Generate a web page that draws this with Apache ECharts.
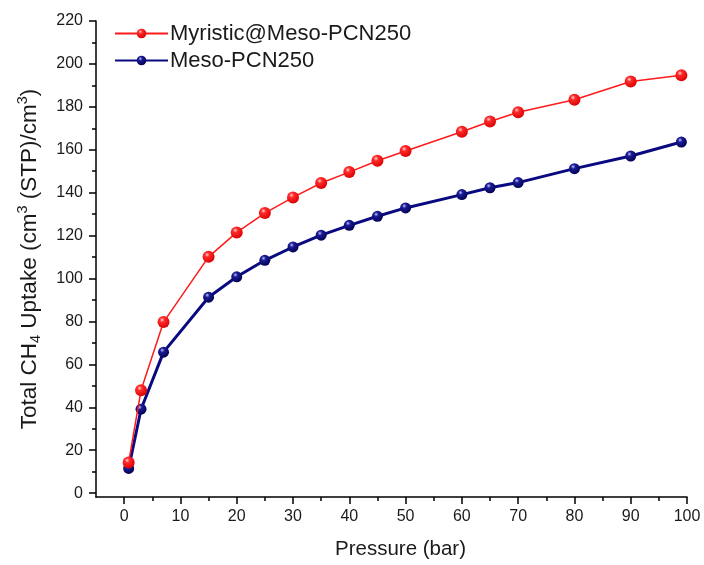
<!DOCTYPE html>
<html>
<head>
<meta charset="utf-8">
<title>CH4 uptake isotherms</title>
<script src="https://cdn.jsdelivr.net/npm/echarts@6/dist/echarts.min.js"></script>
<style>
  html, body { margin: 0; padding: 0; background: #fff; }
  #chart { width: 704px; height: 565px; }
</style>
</head>
<body>
<div id="chart"></div>
<script>
// Pressure points (bar) shared by both isotherms
const pressure = [0.8, 3, 7, 15, 20, 25, 30, 35, 40, 45, 50, 60, 65, 70, 80, 90, 99];

// Total CH4 uptake, cm3(STP)/cm3
const myristicUptake = [14.3, 47.9, 79.7, 110.1, 121.5, 130.5, 137.8, 144.5, 149.6, 154.9, 159.4, 168.4, 173.2, 177.5, 183.3, 191.8, 194.7];
const mesoUptake = [11.5, 39.1, 65.7, 91.3, 100.8, 108.5, 114.7, 120.2, 124.8, 129.0, 132.9, 139.1, 142.3, 144.7, 151.2, 157.1, 163.6];

const seriesNames = ['Myristic@Meso-PCN250', 'Meso-PCN250'];

// Axis ticks
const xMajorTicks = [0, 10, 20, 30, 40, 50, 60, 70, 80, 90, 100];
const xMinorTicks = [5, 15, 25, 35, 45, 55, 65, 75, 85, 95];
const yMajorTicks = [0, 20, 40, 60, 80, 100, 120, 140, 160, 180, 200, 220];
const yMinorTicks = [10, 30, 50, 70, 90, 110, 130, 150, 170, 190, 210];

const FONT = '"Liberation Sans", Arial, Helvetica, sans-serif';
const INK = '#1a1a1a';

function sphere(light, mid, dark) {
  return {
    type: 'radial', x: 0.38, y: 0.32, r: 0.72,
    colorStops: [
      { offset: 0, color: light },
      { offset: 0.28, color: mid },
      { offset: 1, color: dark }
    ]
  };
}

const toPairs = (vals) => pressure.map((p, i) => [p, vals[i]]);

const chart = echarts.init(document.getElementById('chart'), null, { renderer: 'canvas' });

const axisLine = { show: true, onZero: false, lineStyle: { color: '#000', width: 1.5 } };
const hiddenLine = { show: false, onZero: false };
const tickStyle = { color: '#000', width: 1.5 };

chart.setOption({
  animation: false,
  backgroundColor: '#fff',
  grid: { left: 96, right: 17, top: 21, bottom: 67, containLabel: false },
  legend: {
    orient: 'vertical',
    left: 109,
    top: 17,
    itemWidth: 53,
    itemHeight: 12,
    itemGap: 4,
    data: seriesNames,
    textStyle: { fontFamily: FONT, fontSize: 22, color: INK, lineHeight: 23, padding: [0, 0, 0, -3] }
  },
  xAxis: [
    {
      type: 'value', min: -5, max: 100,
      name: 'Pressure (bar)', nameLocation: 'middle', nameGap: 42,
      nameTextStyle: { fontFamily: FONT, fontSize: 20.5, color: INK, padding: [0, 0, 0, 18] },
      axisLine: axisLine,
      axisTick: { show: true, inside: false, length: 7, customValues: xMajorTicks, lineStyle: tickStyle },
      axisLabel: { customValues: xMajorTicks, margin: 12, fontFamily: FONT, fontSize: 16, color: INK },
      splitLine: { show: false }
    },
    {
      type: 'value', min: -5, max: 100, position: 'bottom',
      axisLine: hiddenLine,
      axisTick: { show: true, inside: false, length: 4, customValues: xMinorTicks, lineStyle: tickStyle },
      axisLabel: { show: false },
      splitLine: { show: false }
    }
  ],
  yAxis: [
    {
      type: 'value', min: -1.8, max: 220,
      name: 'Total CH{sub|4} Uptake (cm{sup|3} (STP)/cm{sup|3})',
      nameLocation: 'middle', nameGap: 56, nameRotate: 90,
      nameTextStyle: {
        fontFamily: FONT, fontSize: 22.5, color: INK, lineHeight: 32, verticalAlign: 'middle',
        rich: {
          sub: { fontFamily: FONT, fontSize: 14.5, color: INK, lineHeight: 32, verticalAlign: 'bottom', padding: [0, 0, 2, 0] },
          sup: { fontFamily: FONT, fontSize: 14.5, color: INK, lineHeight: 32, verticalAlign: 'top', padding: [2, 0, 0, 0] }
        }
      },
      axisLine: axisLine,
      axisTick: { show: true, inside: false, length: 7, customValues: yMajorTicks, lineStyle: tickStyle },
      axisLabel: { customValues: yMajorTicks, margin: 13, fontFamily: FONT, fontSize: 16, color: INK },
      splitLine: { show: false }
    },
    {
      type: 'value', min: -1.8, max: 220, position: 'left',
      axisLine: hiddenLine,
      axisTick: { show: true, inside: false, length: 4, customValues: yMinorTicks, lineStyle: tickStyle },
      axisLabel: { show: false },
      splitLine: { show: false }
    }
  ],
  series: [
    {
      name: seriesNames[0],
      type: 'line',
      xAxisIndex: 0, yAxisIndex: 0,
      z: 4,
      data: toPairs(myristicUptake),
      symbol: 'circle',
      symbolSize: 12,
      lineStyle: { color: '#ff1a1a', width: 1.5 },
      itemStyle: { color: sphere('#ffd0d0', '#ff2a2a', '#d80000'), borderWidth: 0 }
    },
    {
      name: seriesNames[1],
      type: 'line',
      xAxisIndex: 0, yAxisIndex: 0,
      z: 3,
      data: toPairs(mesoUptake),
      symbol: 'circle',
      symbolSize: 11,
      lineStyle: { color: '#0a0a80', width: 3 },
      itemStyle: { color: sphere('#b8c4ff', '#1c1c96', '#00004e'), borderWidth: 0 }
    }
  ]
});
</script>
</body>
</html>
